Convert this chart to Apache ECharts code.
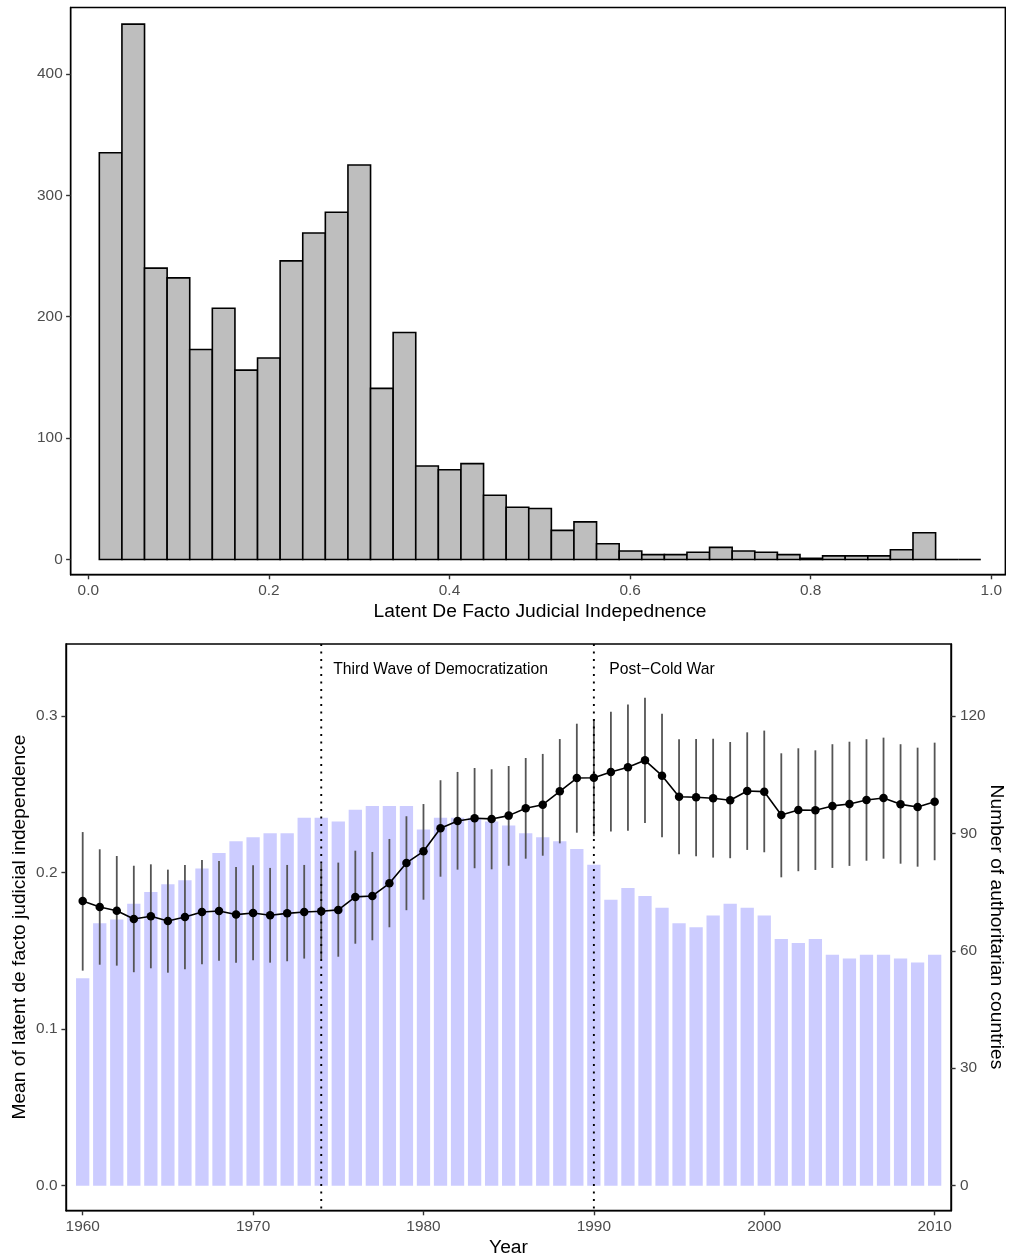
<!DOCTYPE html>
<html>
<head>
<meta charset="utf-8">
<script src="https://cdn.jsdelivr.net/npm/echarts@6/dist/echarts.min.js"></script>
<style>
html,body{margin:0;padding:0;background:#fff;}
#chart{width:1010px;height:1259px;}
</style>
</head>
<body>
<div id="chart"></div>
<script>
// ---------- Data: histogram (top) ----------
var binStart = 0.0122;
var binWidth = 0.02503;
var binCounts = [335, 441, 240, 232, 173, 207, 156, 166, 246, 269, 286, 325, 141, 187,
  77, 74, 79, 53, 43, 42, 24, 31, 13, 7, 4, 4, 6, 10, 7, 6, 4, 1, 3, 3, 3, 8, 22, 0, 0];
var histXTicks = [0, 0.2, 0.4, 0.6, 0.8, 1.0];
var histYTicks = [0, 100, 200, 300, 400];

// ---------- Data: yearly series (bottom) ----------
var years = [1960, 1961, 1962, 1963, 1964, 1965, 1966, 1967, 1968, 1969,
  1970, 1971, 1972, 1973, 1974, 1975, 1976, 1977, 1978, 1979,
  1980, 1981, 1982, 1983, 1984, 1985, 1986, 1987, 1988, 1989,
  1990, 1991, 1992, 1993, 1994, 1995, 1996, 1997, 1998, 1999,
  2000, 2001, 2002, 2003, 2004, 2005, 2006, 2007, 2008, 2009, 2010];
var authCounts = [53, 67, 68, 72, 75, 77, 78, 81, 85, 88,
  89, 90, 90, 94, 94, 93, 96, 97, 97, 97,
  91, 94, 94, 94, 93, 92, 90, 89, 88, 86,
  82, 73, 76, 74, 71, 67, 66, 69, 72, 71,
  69, 63, 62, 63, 59, 58, 59, 59, 58, 57, 59];
var meanJI = [0.1818, 0.1780, 0.1756, 0.1703, 0.1720, 0.1690, 0.1716, 0.1748, 0.1754, 0.1731,
  0.1741, 0.1727, 0.1739, 0.1748, 0.1752, 0.1761, 0.1844, 0.1850, 0.1931, 0.2061,
  0.2135, 0.2282, 0.2329, 0.2346, 0.2342, 0.2363, 0.2410, 0.2433, 0.2518, 0.2603,
  0.2605, 0.2642, 0.2672, 0.2716, 0.2618, 0.2484, 0.2480, 0.2474, 0.2461, 0.2520,
  0.2516, 0.2367, 0.2399, 0.2397, 0.2425, 0.2437, 0.2463, 0.2476, 0.2435, 0.2418, 0.2452];
var upperJI = [0.2258, 0.2148, 0.2105, 0.2043, 0.2052, 0.2018, 0.2048, 0.2080, 0.2073, 0.2035,
  0.2046, 0.2029, 0.2048, 0.2048, 0.2057, 0.2063, 0.2139, 0.2131, 0.2214, 0.2359,
  0.2437, 0.2589, 0.2642, 0.2667, 0.2659, 0.2680, 0.2731, 0.2757, 0.2852, 0.2950,
  0.2980, 0.3027, 0.3072, 0.3116, 0.3014, 0.2851, 0.2852, 0.2854, 0.2833, 0.2895,
  0.2906, 0.2761, 0.2793, 0.2780, 0.2819, 0.2835, 0.2851, 0.2861, 0.2819, 0.2797, 0.2829];
var lowerJI = [0.1373, 0.1411, 0.1405, 0.1363, 0.1388, 0.1360, 0.1382, 0.1414, 0.1437, 0.1424,
  0.1439, 0.1424, 0.1433, 0.1450, 0.1447, 0.1462, 0.1545, 0.1567, 0.1650, 0.1759,
  0.1826, 0.1973, 0.2018, 0.2027, 0.2020, 0.2043, 0.2088, 0.2107, 0.2186, 0.2254,
  0.2232, 0.2261, 0.2267, 0.2316, 0.2225, 0.2116, 0.2103, 0.2095, 0.2091, 0.2144,
  0.2129, 0.1969, 0.2008, 0.2016, 0.2029, 0.2042, 0.2075, 0.2088, 0.2056, 0.2037, 0.2078];
var eventYears = [1974, 1990];
var eventLabels = ['Third Wave of Democratization', 'Post\u2212Cold War'];
var eventLabelX = [1981, 1994];
var eventLabelY = [0.3298, 0.3298];
var yearTicks = [1960, 1970, 1980, 1990, 2000, 2010];
var leftTicks = [0, 0.1, 0.2, 0.3];
var rightTicks = [0, 30, 60, 90, 120];

// ---------- Build ----------
var FONT = '"Liberation Sans", Arial, Helvetica, sans-serif';
var LABEL_COLOR = '#4D4D4D';
var LABEL_SIZE = 15.4;
var TITLE_SIZE = 19.2;
var LINE_W = 1.4;

var histData = binCounts.map(function (c, i) {
  var x0 = binStart + i * binWidth;
  return [x0, x0 + binWidth, c];
});
var barData = years.map(function (y, i) { return [y, authCounts[i]]; });
var errData = years.map(function (y, i) { return [y, lowerJI[i], upperJI[i]]; });
var meanData = years.map(function (y, i) { return [y, meanJI[i]]; });
var eventData = eventYears.map(function (y) { return [y, 0.1]; });
var annoData = eventLabelX.map(function (x, i) { return [x, eventLabelY[i]]; });

function axisCommon(ticks, fmt, margin) {
  return {
    axisLine: { show: true, onZero: false, lineStyle: { color: '#000', width: LINE_W } },
    axisTick: { show: true, length: 4.6, customValues: ticks, lineStyle: { color: '#333', width: LINE_W } },
    axisLabel: { show: true, customValues: ticks, color: LABEL_COLOR, fontSize: LABEL_SIZE,
      fontFamily: FONT, margin: margin, formatter: fmt },
    splitLine: { show: false },
    minorTick: { show: false }
  };
}
function merge(a, b) { for (var k in b) a[k] = b[k]; return a; }

var chart = echarts.init(document.getElementById('chart'), null, { renderer: 'canvas' });

var option = {
  animation: false,
  backgroundColor: '#fff',
  grid: [
    { left: 70.7, top: 7.5, width: 934.6, height: 567.2, show: true, borderColor: '#000', borderWidth: LINE_W, backgroundColor: 'transparent' },
    { left: 66, top: 644, width: 885, height: 566.7, show: true, borderColor: '#000', borderWidth: LINE_W, backgroundColor: 'transparent' }
  ],
  xAxis: [
    merge({ type: 'value', gridIndex: 0, min: -0.0195, max: 1.0155 },
      axisCommon(histXTicks, function (v) { return v.toFixed(1); }, 9)),
    merge({ type: 'value', gridIndex: 1, min: 1959.02, max: 2010.96 },
      axisCommon(yearTicks, function (v) { return String(v); }, 8.5))
  ],
  yAxis: [
    merge({ type: 'value', gridIndex: 0, min: -12.5, max: 454.7 },
      axisCommon(histYTicks, function (v) { return String(v); }, 8)),
    merge({ type: 'value', gridIndex: 1, position: 'left', min: -0.016, max: 0.3459 },
      axisCommon(leftTicks, function (v) { return v.toFixed(1); }, 8.5)),
    merge({ type: 'value', gridIndex: 1, position: 'right', min: -0.016 * 400, max: 0.3459 * 400 },
      axisCommon(rightTicks, function (v) { return String(v); }, 9))
  ],
  graphic: [
    { type: 'text', x: 540, y: 611.7, z: 100, style: { text: 'Latent De Facto Judicial Indepednence', fill: '#000', fontSize: TITLE_SIZE, fontFamily: FONT, align: 'center', verticalAlign: 'middle' } },
    { type: 'text', x: 508.5, y: 1248, z: 100, style: { text: 'Year', fill: '#000', fontSize: TITLE_SIZE, fontFamily: FONT, align: 'center', verticalAlign: 'middle' } },
    { type: 'text', x: 19.5, y: 927, rotation: Math.PI / 2, z: 100, style: { text: 'Mean of latent de facto judicial independence', fill: '#000', fontSize: TITLE_SIZE, fontFamily: FONT, align: 'center', verticalAlign: 'middle' } },
    { type: 'text', x: 996.7, y: 927, rotation: -Math.PI / 2, z: 100, style: { text: 'Number of authoritarian countries', fill: '#000', fontSize: TITLE_SIZE, fontFamily: FONT, align: 'center', verticalAlign: 'middle' } }
  ],
  series: [
    {
      name: 'histogram', type: 'custom', xAxisIndex: 0, yAxisIndex: 0, z: 2,
      data: histData,
      encode: { x: [0, 1], y: 2 },
      renderItem: function (params, api) {
        var x0 = api.value(0), x1 = api.value(1), c = api.value(2);
        var pTop = api.coord([x0, c]);
        var pBase = api.coord([x1, 0]);
        if (c === 0) {
          return { type: 'line', shape: { x1: pTop[0], y1: pBase[1], x2: pBase[0], y2: pBase[1] },
            style: { stroke: '#000', lineWidth: 1.6 } };
        }
        return { type: 'rect', shape: { x: pTop[0], y: pTop[1], width: pBase[0] - pTop[0], height: pBase[1] - pTop[1] },
          style: { fill: '#BEBEBE', stroke: '#000', lineWidth: 1.6 } };
      }
    },
    {
      name: 'authoritarian', type: 'custom', xAxisIndex: 1, yAxisIndex: 2, z: 1,
      data: barData,
      encode: { x: 0, y: 1 },
      renderItem: function (params, api) {
        var yr = api.value(0), c = api.value(1);
        var p0 = api.coord([yr - 0.39, c]);
        var p1 = api.coord([yr + 0.39, 0]);
        return { type: 'rect', shape: { x: p0[0], y: p0[1], width: p1[0] - p0[0], height: p1[1] - p0[1] },
          style: { fill: '#CCCCFF' } };
      }
    },
    {
      name: 'ci', type: 'custom', xAxisIndex: 1, yAxisIndex: 1, z: 3,
      data: errData,
      encode: { x: 0, y: [1, 2] },
      renderItem: function (params, api) {
        var yr = api.value(0);
        var lo = api.coord([yr, api.value(1)]);
        var hi = api.coord([yr, api.value(2)]);
        return { type: 'line', shape: { x1: lo[0], y1: lo[1], x2: hi[0], y2: hi[1] },
          style: { stroke: '#555555', lineWidth: 1.8 } };
      }
    },
    {
      name: 'events', type: 'custom', xAxisIndex: 1, yAxisIndex: 1, z: 4,
      data: eventData,
      encode: { x: 0, y: 1 },
      renderItem: function (params, api) {
        var cs = params.coordSys;
        var p = api.coord([api.value(0), 0]);
        return { type: 'line', shape: { x1: p[0], y1: cs.y, x2: p[0], y2: cs.y + cs.height },
          style: { stroke: '#000', lineWidth: 1.9, lineDash: [1.9, 5.6], lineCap: 'butt' } };
      }
    },
    {
      name: 'mean', type: 'line', xAxisIndex: 1, yAxisIndex: 1, z: 5,
      data: meanData,
      symbol: 'circle', symbolSize: 8.5, showSymbol: true,
      lineStyle: { color: '#000', width: 1.6 },
      itemStyle: { color: '#000', borderWidth: 0 }
    },
    {
      name: 'annotations', type: 'custom', xAxisIndex: 1, yAxisIndex: 1, z: 6,
      data: annoData,
      encode: { x: 0, y: 1 },
      renderItem: function (params, api) {
        var p = api.coord([api.value(0), api.value(1)]);
        return { type: 'text', x: p[0], y: p[1],
          style: { text: eventLabels[params.dataIndex], fill: '#000', fontSize: 15.7, fontFamily: FONT,
            align: 'center', verticalAlign: 'middle' } };
      }
    }
  ]
};
chart.setOption(option);
</script>
</body>
</html>
